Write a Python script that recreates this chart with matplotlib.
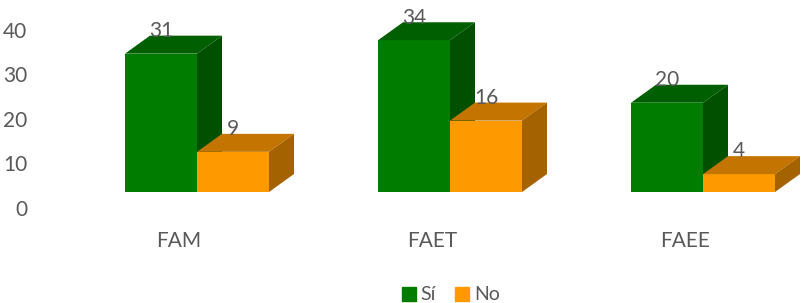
import matplotlib.pyplot as plt
from matplotlib.patches import Polygon, Patch
import numpy as np

categories = ['FAM', 'FAET', 'FAEE']
si = [31, 34, 20]
no = [9, 16, 4]
series = ['Sí', 'No']

# face colours: front, top, side
green = ['#007c00', '#005f00', '#005000']
orange = ['#ff9900', '#c47400', '#a46200']
text_col = '#595959'

plt.rcParams['font.family'] = ['Lato', 'DejaVu Sans']

W, H = 801, 303
fig = plt.figure(figsize=(W / 100, H / 100), dpi=100)

# pixel mapping of the chart: category spacing and value scale
cat_px, x0_px = 253, 179
unit_px, y0_px = 4.4625, 208
xlim = (-0.55, 2.455)
ylim = (-2, 46)
left = x0_px + xlim[0] * cat_px
right = x0_px + xlim[1] * cat_px
top = y0_px - ylim[1] * unit_px
bot = y0_px - ylim[0] * unit_px
ax = fig.add_axes([left / W, 1 - bot / H, (right - left) / W, (bot - top) / H])
ax.set_xlim(*xlim)
ax.set_ylim(*ylim)

width = 72 / cat_px
shift = 18 / cat_px
dx = 25 / cat_px
dy = 18 / unit_px
base = (y0_px - 192) / unit_px

x = np.arange(len(categories))


def bar3d(xs, vals, cols, z):
    bars = ax.bar(xs, vals, width, bottom=base, align='edge', color=cols[0],
                  edgecolor='none', zorder=z)
    for b, v in zip(bars, vals):
        x1, x2 = b.get_x(), b.get_x() + b.get_width()
        yb, yt = base, base + v
        ax.add_patch(Polygon([(x1, yt), (x2, yt), (x2 + dx, yt + dy), (x1 + dx, yt + dy)],
                             closed=True, facecolor=cols[1], edgecolor='none', zorder=z))
        ax.add_patch(Polygon([(x2, yb), (x2, yt), (x2 + dx, yt + dy), (x2 + dx, yb + dy)],
                             closed=True, facecolor=cols[2], edgecolor='none', zorder=z))
        ax.text((x1 + x2) / 2, yt + dy - 0.3, str(v), ha='center', va='baseline',
                fontsize=15, color=text_col, zorder=10)
    return bars


bar3d(x + shift - width, si, green, 2)
bar3d(x + shift, no, orange, 3)

ax.set_yticks([0, 10, 20, 30, 40])
ax.set_xticks(x)
ax.set_xticklabels(categories)
ax.tick_params(axis='both', length=0, labelsize=15, labelcolor=text_col)
ax.tick_params(axis='y', pad=9)
ax.tick_params(axis='x', pad=10)
for s in ax.spines.values():
    s.set_visible(False)

handles = [Patch(color=green[0]), Patch(color=orange[0])]
fig.legend(handles, series, loc='center', bbox_to_anchor=(451 / W, 1 - 295 / H),
           ncol=2, frameon=False, fontsize=14, handlelength=0.7, handleheight=0.7,
           handletextpad=0.25, columnspacing=1.0, borderpad=0, labelcolor=text_col)

fig.savefig('out.png', dpi=100)
